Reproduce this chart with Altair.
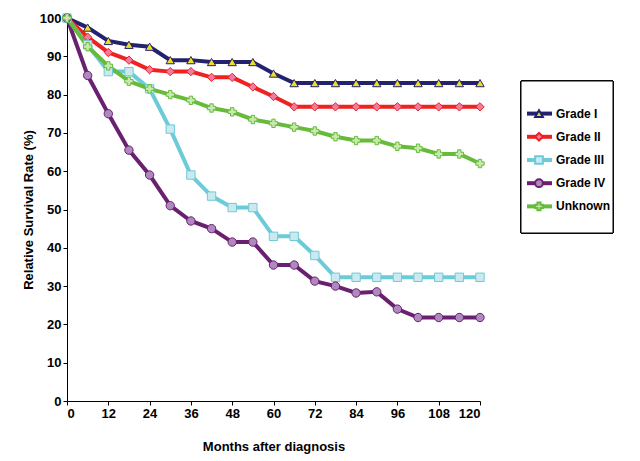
import altair as alt
import pandas as pd

months = list(range(0, 121, 6))
grade1 = [100, 97.5, 94, 93, 92.5, 89, 89, 88.5, 88.5, 88.5, 85.5, 83, 83, 83, 83, 83, 83, 83, 83, 83, 83]
grade2 = [100, 95, 91, 89, 86.5, 86, 86, 84.5, 84.5, 82, 79.5, 76.8, 76.8, 76.8, 76.8, 76.8, 76.8, 76.8, 76.8, 76.8, 76.8]
grade3 = [100, 93, 86, 86, 81.5, 71, 59, 53.5, 50.5, 50.5, 43, 43, 38, 32.3, 32.3, 32.3, 32.3, 32.3, 32.3, 32.3, 32.3]
grade4 = [100, 85, 75, 65.5, 59, 51, 47, 45, 41.5, 41.5, 35.5, 35.5, 31.3, 30, 28.2, 28.5, 24, 21.8, 21.8, 21.8, 21.8]
unknown = [100, 92.5, 87.5, 83.5, 81.5, 80, 78.5, 76.5, 75.5, 73.5, 72.5, 71.5, 70.5, 69, 68, 68, 66.5, 66, 64.5, 64.5, 62]

series = ["Grade I", "Grade II", "Grade III", "Grade IV", "Unknown"]
values = [grade1, grade2, grade3, grade4, unknown]
line_colors = ["#22226e", "#ee2222", "#6ccbd8", "#6a2070", "#66bb3a"]
fill_colors = ["#eedd22", "#f07aa0", "#cce9f0", "#b088c0", "#c8e8b0"]
shapes = ["triangle-up", "diamond", "square", "circle", "cross"]

rows = []
for s, vals in zip(series, values):
    for m, v in zip(months, vals):
        rows.append({"Months": m, "Rate": v, "Series": s})
df = pd.DataFrame(rows)

x = alt.X("Months:Q", title="Months after diagnosis", scale=alt.Scale(domain=[0, 120], nice=False),
          axis=alt.Axis(values=list(range(0, 121, 12)), grid=False, tickSize=4, titlePadding=20))
y = alt.Y("Rate:Q", title="Relative Survival Rate (%)", scale=alt.Scale(domain=[0, 100]),
          axis=alt.Axis(values=list(range(0, 101, 10)), grid=False, tickSize=4))
sc = alt.Scale(domain=series, range=line_colors)
fill_sc = alt.Scale(domain=series, range=fill_colors)
shape_sc = alt.Scale(domain=series, range=shapes)

lines = alt.Chart(df).mark_line(strokeWidth=4).encode(
    x=x, y=y, color=alt.Color("Series:N", scale=sc, legend=None))
points = alt.Chart(df).mark_point(filled=True, size=70, strokeWidth=1, opacity=1).encode(
    x=x, y=y,
    fill=alt.Fill("Series:N", scale=fill_sc, legend=None),
    stroke=alt.Stroke("Series:N", scale=sc, legend=None),
    shape=alt.Shape("Series:N", scale=shape_sc, legend=None))

# hand-made legend panel
leg_df = pd.DataFrame({"Series": series})
leg_y = alt.Y("Series:N", sort=series, axis=None,
              scale=alt.Scale(type="point", domain=series, range=[84, 200]))
box = alt.Chart(leg_df).mark_rect(fill="white", stroke="black", strokeWidth=1).encode(
    x=alt.value(0), x2=alt.value(92), y=alt.value(63), y2=alt.value(215))
leg_lines = alt.Chart(leg_df).mark_rule(strokeWidth=4).encode(
    y=leg_y, x=alt.value(6), x2=alt.value(31), color=alt.Color("Series:N", scale=sc, legend=None))
leg_pts = alt.Chart(leg_df).mark_point(filled=True, size=60, opacity=1).encode(
    y=leg_y, x=alt.value(18),
    fill=alt.Fill("Series:N", scale=fill_sc, legend=None),
    stroke=alt.Stroke("Series:N", scale=sc, legend=None),
    shape=alt.Shape("Series:N", scale=shape_sc, legend=None))
leg_txt = alt.Chart(leg_df).mark_text(align="left", fontSize=12, fontWeight="bold", font="Arial").encode(
    y=leg_y, x=alt.value(35), text="Series:N")
legend = (box + leg_lines + leg_pts + leg_txt).properties(width=92, height=383)

main = (lines + points).properties(width=413, height=383)

chart = alt.hconcat(main, legend, spacing=32).resolve_scale(
    color="independent", fill="independent", stroke="independent", shape="independent", y="independent"
).properties(padding={"left": 14, "top": 2, "right": 5, "bottom": 2}).configure_axis(
    labelFont="Arial", titleFont="Arial", labelFontWeight="bold", titleFontWeight="bold",
    labelFontSize=13, titleFontSize=13, labelColor="black", titleColor="black",
    domainColor="black", tickColor="black"
).configure_view(stroke=None).configure_concat(spacing=32)

chart.save("out.html", embed_options={"renderer": "svg", "actions": False})
